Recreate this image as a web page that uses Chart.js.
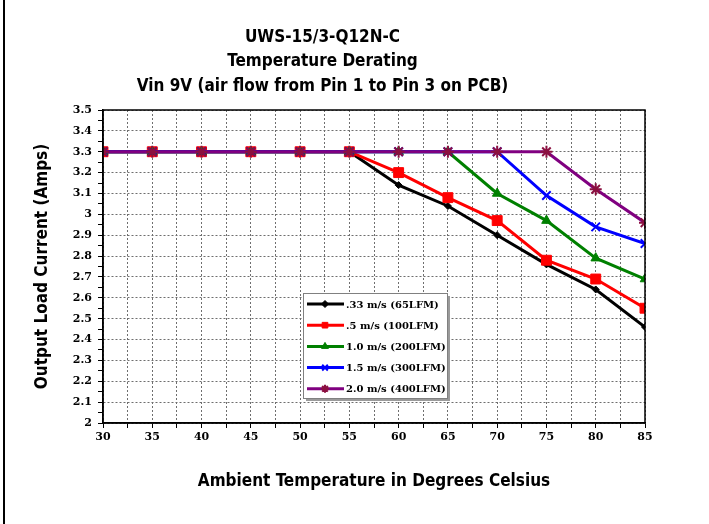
<!DOCTYPE html>
<html>
<head>
<meta charset="utf-8">
<script src="https://cdn.jsdelivr.net/npm/chart.js@4.4.1/dist/chart.umd.min.js"></script>
<style>
  html, body { margin: 0; padding: 0; background: #fff; }
  #wrap { position: relative; width: 709px; height: 524px; }
</style>
</head>
<body>
<div id="wrap"><canvas id="c" width="709" height="524"></canvas></div>
<script>
// ---- data ----
const temps = [30, 35, 40, 45, 50, 55, 60, 65, 70, 75, 80, 85];
const seriesLabels = ['.33 m/s (65LFM)', '.5 m/s (100LFM)', '1.0 m/s (200LFM)', '1.5 m/s (300LFM)', '2.0 m/s (400LFM)'];
const s033 = [3.3, 3.3, 3.3, 3.3, 3.3, 3.3, 3.14, 3.04, 2.90, 2.76, 2.64, 2.46];
const s05  = [3.3, 3.3, 3.3, 3.3, 3.3, 3.3, 3.20, 3.08, 2.97, 2.78, 2.69, 2.55];
const s10  = [3.3, 3.3, 3.3, 3.3, 3.3, 3.3, 3.3, 3.3, 3.10, 2.97, 2.79, 2.69];
const s15  = [3.3, 3.3, 3.3, 3.3, 3.3, 3.3, 3.3, 3.3, 3.3, 3.09, 2.94, 2.86];
const s20  = [3.3, 3.3, 3.3, 3.3, 3.3, 3.3, 3.3, 3.3, 3.3, 3.3, 3.12, 2.96];
const xTickLabels = ['30', '35', '40', '45', '50', '55', '60', '65', '70', '75', '80', '85'];
const yTickLabels = ['2', '2.1', '2.2', '2.3', '2.4', '2.5', '2.6', '2.7', '2.8', '2.9', '3', '3.1', '3.2', '3.3', '3.4', '3.5'];
const titleLines = ['UWS-15/3-Q12N-C', 'Temperature Derating', 'Vin 9V (air flow from Pin 1 to Pin 3 on PCB)'];
const xTitle = 'Ambient Temperature in Degrees Celsius';
const yTitle = 'Output Load Current (Amps)';

const narrow = "'Liberation Sans Narrow', 'Arial Narrow', 'DejaVu Sans Condensed', sans-serif";
const serif = "'DejaVu Serif', 'Liberation Serif', serif";

const styles = [
  { color: '#000000', point: 'rectRot', radius: 3.5, pcolor: '#000000', order: 5 },
  { color: '#ff0000', point: 'rect', radius: 7, pcolor: '#ff0000', order: 4 },
  { color: '#008000', point: 'triangle', radius: 5.5, pcolor: '#008000', order: 3 },
  { color: '#0000ff', point: 'crossRot', radius: 6, pcolor: '#0000ff', order: 2 },
  { color: '#800080', point: 'star', radius: 6, pcolor: '#8b1040', order: 1 }
];
const allSeries = [s033, s05, s10, s15, s20];

const datasets = allSeries.map((arr, i) => ({
  label: seriesLabels[i],
  data: temps.map((t, k) => ({ x: t, y: arr[k] })),
  borderColor: styles[i].color,
  backgroundColor: styles[i].pcolor,
  pointBackgroundColor: styles[i].pcolor,
  pointBorderColor: styles[i].pcolor,
  pointStyle: styles[i].point,
  pointRadius: styles[i].radius,
  pointBorderWidth: (styles[i].point === 'crossRot' || styles[i].point === 'star') ? 2 : 1,
  borderWidth: 3,
  tension: 0,
  order: styles[i].order
}));

function findLabel(list, v) {
  for (const l of list) { if (Math.abs(parseFloat(l) - v) < 1e-6) return l; }
  return '';
}

const framePlugin = {
  id: 'frame',
  beforeDraw(chart) {
    const ctx = chart.ctx;
    ctx.save();
    ctx.fillStyle = '#ffffff';
    ctx.fillRect(0, 0, chart.width, chart.height);
    ctx.fillStyle = '#000000';
    ctx.fillRect(3, 0, 2, chart.height);
    ctx.restore();
  },
  afterDatasetsDraw(chart) {
    const ctx = chart.ctx, a = chart.chartArea;
    ctx.save();
    ctx.strokeStyle = '#000';
    ctx.lineWidth = 1.5;
    ctx.strokeRect(a.left, a.top, a.right - a.left, a.bottom - a.top);
    ctx.restore();
  },
  afterDraw(chart) {
    const ctx = chart.ctx, a = chart.chartArea;
    const bx = a.left + 200, by = a.top + 183, bw = 144, bh = 105;
    ctx.save();
    ctx.fillStyle = '#9a9a9a';
    ctx.fillRect(bx + 3, by + 3, bw, bh);
    ctx.fillStyle = '#ffffff';
    ctx.fillRect(bx, by, bw, bh);
    ctx.strokeStyle = '#808080';
    ctx.lineWidth = 1;
    ctx.strokeRect(bx + 0.5, by + 0.5, bw, bh);
    const ds = chart.data.datasets;
    ds.forEach((d, i) => {
      const y = by + 11 + i * 21.2;
      ctx.strokeStyle = d.borderColor;
      ctx.lineWidth = 3;
      ctx.beginPath();
      ctx.moveTo(bx + 4, y);
      ctx.lineTo(bx + 41, y);
      ctx.stroke();
      ctx.fillStyle = d.pointBackgroundColor;
      ctx.strokeStyle = d.pointBorderColor;
      ctx.lineWidth = d.pointBorderWidth;
      Chart.helpers.drawPoint(ctx, { pointStyle: d.pointStyle, radius: Math.min(d.pointRadius, 4), rotation: 0, borderWidth: d.pointBorderWidth }, bx + 22, y);
      ctx.fillStyle = '#000';
      ctx.font = 'bold 10px ' + serif;
      ctx.textBaseline = 'middle';
      ctx.textAlign = 'left';
      ctx.fillText(d.label, bx + 43, y + 1);
    });
    ctx.restore();
  }
};

new Chart(document.getElementById('c'), {
  type: 'line',
  data: { datasets },
  plugins: [framePlugin],
  options: {
    responsive: false,
    animation: false,
    layout: { padding: { left: 0, right: 64, top: 0, bottom: 0 } },
    plugins: {
      legend: { display: false },
      tooltip: { enabled: false },
      title: {
        display: true,
        text: titleLines,
        color: '#000',
        font: { family: narrow, weight: 'bold', size: 17, lineHeight: '24.5px' },
        padding: { top: 25, bottom: 11.5 }
      }
    },
    scales: {
      x: {
        type: 'linear',
        min: 30, max: 85,
        afterFit(s) { s.height = 101; },
        ticks: {
          stepSize: 2.5, autoSkip: false, maxRotation: 0, padding: 3,
          color: '#000', font: { family: serif, weight: 'bold', size: 11 },
          callback: (v) => findLabel(xTickLabels, v)
        },
        grid: { color: '#6e6e6e', lineWidth: 1, tickColor: '#000', tickLength: 5, drawTicks: true },
        border: { display: true, color: '#000', width: 1.5, dash: [2, 2] },
        title: {
          display: true, text: xTitle, color: '#000',
          font: { family: narrow, weight: 'bold', size: 17, lineHeight: 1.2 },
          padding: { top: 0, bottom: 32 }
        }
      },
      y: {
        type: 'linear',
        min: 2, max: 3.5,
        afterFit(s) { s.width = 103; },
        ticks: {
          stepSize: 0.05, autoSkip: false, padding: 6,
          color: '#000', font: { family: serif, weight: 'bold', size: 11 },
          callback: (v) => findLabel(yTickLabels, v)
        },
        grid: {
          color: (c) => (c.tick && findLabel(yTickLabels, c.tick.value) !== '') ? '#6e6e6e' : 'rgba(0,0,0,0)',
          lineWidth: 1, tickColor: '#000', tickLength: 5
        },
        border: { display: true, color: '#000', width: 1.5, dash: [2, 2] },
        title: {
          display: true, text: yTitle, color: '#000',
          font: { family: narrow, weight: 'bold', size: 17, lineHeight: 1.2 },
          padding: { top: 32, bottom: 0 }
        }
      }
    }
  }
});
</script>
</body>
</html>
